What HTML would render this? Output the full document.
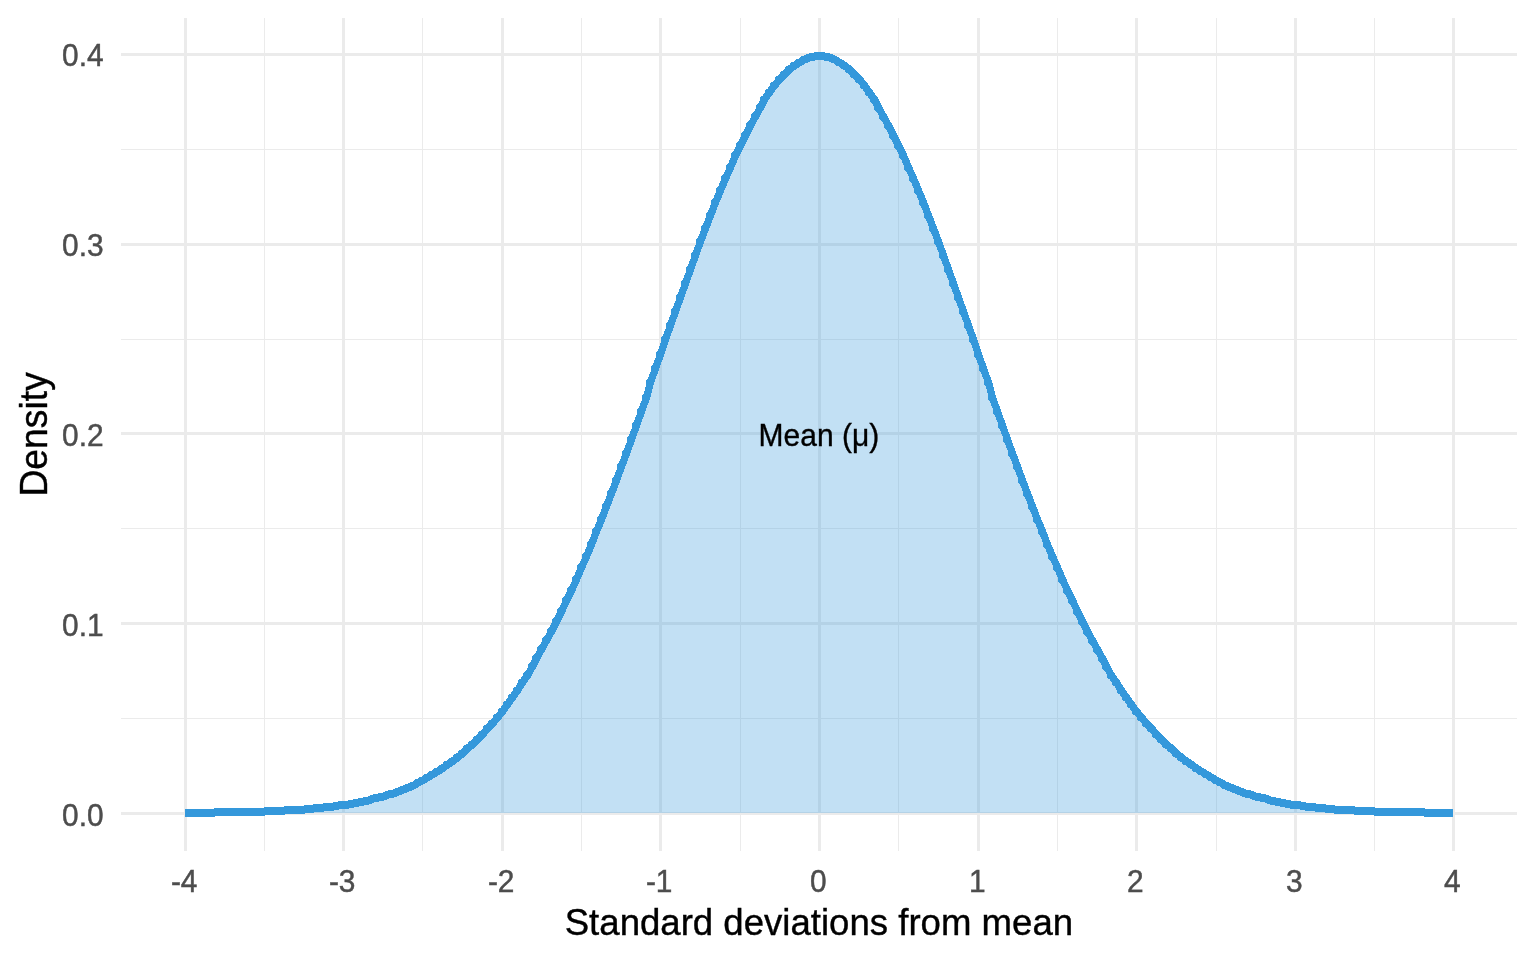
<!DOCTYPE html>
<html lang="en"><head><meta charset="utf-8"><title>Normal distribution</title>
<style>
html,body{margin:0;padding:0;background:#fff;overflow:hidden;}
svg{display:block;}
text{font-family:"Liberation Sans",Arial,Helvetica,sans-serif;}
.ax{font-size:29.9px;fill:#4d4d4d;stroke:#4d4d4d;stroke-width:0.45px;}
.ti{font-size:37.3px;fill:#000;stroke:#000;stroke-width:0.4px;}
.an{font-size:30.3px;fill:#000;stroke:#000;stroke-width:0.35px;}
</style></head><body>
<svg width="1536" height="960" viewBox="0 0 1536 960">
<rect width="1536" height="960" fill="#fff"/>
<g shape-rendering="crispEdges">
<g fill="#ebebeb">
<rect x="264" y="18" width="1" height="833"/>
<rect x="422" y="18" width="1" height="833"/>
<rect x="581" y="18" width="1" height="833"/>
<rect x="740" y="18" width="1" height="833"/>
<rect x="898" y="18" width="1" height="833"/>
<rect x="1057" y="18" width="1" height="833"/>
<rect x="1216" y="18" width="1" height="833"/>
<rect x="1374" y="18" width="1" height="833"/>
<rect x="121" y="718" width="1396" height="1"/>
<rect x="121" y="528" width="1396" height="1"/>
<rect x="121" y="339" width="1396" height="1"/>
<rect x="121" y="149" width="1396" height="1"/>
<rect x="184" y="18" width="3" height="833"/>
<rect x="342" y="18" width="3" height="833"/>
<rect x="501" y="18" width="3" height="833"/>
<rect x="659" y="18" width="3" height="833"/>
<rect x="818" y="18" width="3" height="833"/>
<rect x="977" y="18" width="3" height="833"/>
<rect x="1135" y="18" width="3" height="833"/>
<rect x="1294" y="18" width="3" height="833"/>
<rect x="1452" y="18" width="3" height="833"/>
<rect x="121" y="812" width="1396" height="3"/>
<rect x="121" y="622" width="1396" height="3"/>
<rect x="121" y="432" width="1396" height="3"/>
<rect x="121" y="243" width="1396" height="3"/>
<rect x="121" y="53" width="1396" height="3"/>
</g>
<path d="M185,813L185,813L190,813L194,813L199,813L204,813L209,813L214,812L219,812L224,812L229,812L234,812L239,812L244,812L249,812L254,812L259,812L264,811L269,811L274,811L279,811L284,810L289,810L294,810L299,810L304,809L308,809L313,808L318,808L323,807L328,807L333,806L338,805L343,805L348,804L353,803L358,802L363,801L368,800L373,798L378,797L383,796L388,794L393,793L398,791L403,789L408,787L413,785L418,782L422,780L427,777L432,774L437,771L442,768L447,764L452,761L457,757L462,753L467,748L472,744L477,739L482,734L487,728L492,723L497,717L502,711L507,704L512,697L517,690L522,682L527,675L532,666L536,658L541,649L546,640L551,631L556,621L561,611L566,600L571,590L576,579L581,567L586,556L591,544L596,531L601,519L606,506L611,493L616,480L621,466L626,453L631,439L636,425L641,411L646,397L650,382L655,368L660,354L665,339L670,325L675,311L680,297L685,283L690,269L695,255L700,241L705,228L710,215L715,202L720,190L725,178L730,167L735,155L740,145L745,135L750,125L755,116L760,107L764,99L769,92L774,85L779,79L784,74L789,69L794,65L799,62L804,59L809,57L814,56L819,56L824,56L829,57L834,59L839,62L844,65L849,69L854,74L859,79L864,85L869,92L874,99L878,107L883,116L888,125L893,135L898,145L903,155L908,167L913,178L918,190L923,202L928,215L933,228L938,241L943,255L948,269L953,283L958,297L963,311L968,325L973,339L978,354L983,368L988,382L992,397L997,411L1002,425L1007,439L1012,453L1017,466L1022,480L1027,493L1032,506L1037,519L1042,531L1047,544L1052,556L1057,567L1062,579L1067,590L1072,600L1077,611L1082,621L1087,631L1092,640L1097,649L1102,658L1106,666L1111,675L1116,682L1121,690L1126,697L1131,704L1136,711L1141,717L1146,723L1151,728L1156,734L1161,739L1166,744L1171,748L1176,753L1181,757L1186,761L1191,764L1196,768L1201,771L1206,774L1211,777L1216,780L1220,782L1225,785L1230,787L1235,789L1240,791L1245,793L1250,794L1255,796L1260,797L1265,798L1270,800L1275,801L1280,802L1285,803L1290,804L1295,805L1300,805L1305,806L1310,807L1315,807L1320,808L1325,808L1330,809L1334,809L1339,810L1344,810L1349,810L1354,810L1359,811L1364,811L1369,811L1374,811L1379,812L1384,812L1389,812L1394,812L1399,812L1404,812L1409,812L1414,812L1419,812L1424,812L1429,813L1434,813L1439,813L1444,813L1448,813L1453,813L1453,813Z" fill="#3498db" fill-opacity="0.3" stroke="none"/>
<path transform="scale(0.9,1)" d="M205.556,813.49L211.656,813.49L216.100,813.49L221.656,813.49L227.211,813.49L232.767,813.49L238.322,812.49L243.878,812.49L249.433,812.49L254.989,812.49L260.544,812.49L266.100,812.49L271.656,812.49L277.211,812.49L282.767,812.49L288.322,812.49L293.878,811.49L299.433,811.49L304.989,811.49L310.544,811.49L316.100,810.49L321.656,810.49L327.211,810.49L332.767,810.49L338.322,809.49L342.767,809.49L348.322,808.49L353.878,808.49L359.433,807.49L364.989,807.49L370.544,806.49L376.100,805.49L381.656,805.49L387.211,804.49L392.767,803.49L398.322,802.49L403.878,801.49L409.433,800.49L414.989,798.49L420.544,797.49L426.100,796.49L431.656,794.49L437.211,793.49L442.767,791.49L448.322,789.49L453.878,787.49L459.433,785.49L464.989,782.49L469.433,780.49L474.989,777.49L480.544,774.49L486.100,771.49L491.656,768.49L497.211,764.49L502.767,761.49L508.322,757.49L513.878,753.49L519.433,748.49L524.989,744.49L530.544,739.49L536.100,734.49L541.656,728.49L547.211,723.49L552.767,717.49L558.322,711.49L563.878,704.49L569.433,697.49L574.989,690.49L580.544,682.49L586.100,675.49L591.656,666.49L596.100,658.49L601.656,649.49L607.211,640.49L612.767,631.49L618.322,621.49L623.878,611.49L629.433,600.49L634.989,590.49L640.544,579.49L646.100,567.49L651.656,556.49L657.211,544.49L662.767,531.49L668.322,519.49L673.878,506.49L679.433,493.49L684.989,480.49L690.544,466.49L696.100,453.49L701.656,439.49L707.211,425.49L712.767,411.49L718.322,397.49L722.767,382.49L728.322,368.49L733.878,354.49L739.433,339.49L744.989,325.49L750.544,311.49L756.100,297.49L761.656,283.49L767.211,269.49L772.767,255.49L778.322,241.49L783.878,228.49L789.433,215.49L794.989,202.49L800.544,190.49L806.100,178.49L811.656,167.49L817.211,155.49L822.767,145.49L828.322,135.49L833.878,125.49L839.433,116.49L844.989,107.49L849.433,99.49L854.989,92.49L860.544,85.49L866.100,79.49L871.656,74.49L877.211,69.49L882.767,65.49L888.322,62.49L893.878,59.49L899.433,57.49L904.989,56.49L910.544,56.49L916.100,56.49L921.656,57.49L927.211,59.49L932.767,62.49L938.322,65.49L943.878,69.49L949.433,74.49L954.989,79.49L960.544,85.49L966.100,92.49L971.656,99.49L976.100,107.49L981.656,116.49L987.211,125.49L992.767,135.49L998.322,145.49L1003.878,155.49L1009.433,167.49L1014.989,178.49L1020.544,190.49L1026.100,202.49L1031.656,215.49L1037.211,228.49L1042.767,241.49L1048.322,255.49L1053.878,269.49L1059.433,283.49L1064.989,297.49L1070.544,311.49L1076.100,325.49L1081.656,339.49L1087.211,354.49L1092.767,368.49L1098.322,382.49L1102.767,397.49L1108.322,411.49L1113.878,425.49L1119.433,439.49L1124.989,453.49L1130.544,466.49L1136.100,480.49L1141.656,493.49L1147.211,506.49L1152.767,519.49L1158.322,531.49L1163.878,544.49L1169.433,556.49L1174.989,567.49L1180.544,579.49L1186.100,590.49L1191.656,600.49L1197.211,611.49L1202.767,621.49L1208.322,631.49L1213.878,640.49L1219.433,649.49L1224.989,658.49L1229.433,666.49L1234.989,675.49L1240.544,682.49L1246.100,690.49L1251.656,697.49L1257.211,704.49L1262.767,711.49L1268.322,717.49L1273.878,723.49L1279.433,728.49L1284.989,734.49L1290.544,739.49L1296.100,744.49L1301.656,748.49L1307.211,753.49L1312.767,757.49L1318.322,761.49L1323.878,764.49L1329.433,768.49L1334.989,771.49L1340.544,774.49L1346.100,777.49L1351.656,780.49L1356.100,782.49L1361.656,785.49L1367.211,787.49L1372.767,789.49L1378.322,791.49L1383.878,793.49L1389.433,794.49L1394.989,796.49L1400.544,797.49L1406.100,798.49L1411.656,800.49L1417.211,801.49L1422.767,802.49L1428.322,803.49L1433.878,804.49L1439.433,805.49L1444.989,805.49L1450.544,806.49L1456.100,807.49L1461.656,807.49L1467.211,808.49L1472.767,808.49L1478.322,809.49L1482.767,809.49L1488.322,810.49L1493.878,810.49L1499.433,810.49L1504.989,810.49L1510.544,811.49L1516.100,811.49L1521.656,811.49L1527.211,811.49L1532.767,812.49L1538.322,812.49L1543.878,812.49L1549.433,812.49L1554.989,812.49L1560.544,812.49L1566.100,812.49L1571.656,812.49L1577.211,812.49L1582.767,812.49L1588.322,813.49L1593.878,813.49L1599.433,813.49L1604.989,813.49L1609.433,813.49L1614.444,813.49" fill="none" stroke="#3498db" stroke-width="8" stroke-linejoin="round" stroke-linecap="butt"/>
<path d="M189.90,813.49h0M193.90,813.49h0M198.90,813.49h0M203.90,813.49h0M208.90,813.49h0M213.90,812.49h0M218.90,812.49h0M223.90,812.49h0M228.90,812.49h0M233.90,812.49h0M238.90,812.49h0M243.90,812.49h0M248.90,812.49h0M253.90,812.49h0M258.90,812.49h0M263.90,811.49h0M268.90,811.49h0M273.90,811.49h0M278.90,811.49h0M283.90,810.49h0M288.90,810.49h0M293.90,810.49h0M298.90,810.49h0M303.90,809.49h0M307.90,809.49h0M312.90,808.49h0M317.90,808.49h0M322.90,807.49h0M327.90,807.49h0M332.90,806.49h0M337.90,805.49h0M342.90,805.49h0M347.90,804.49h0M352.90,803.49h0M357.90,802.49h0M362.90,801.49h0M367.90,800.49h0M372.90,798.49h0M377.90,797.49h0M382.90,796.49h0M387.90,794.49h0M392.90,793.49h0M397.90,791.49h0M402.90,789.49h0M407.90,787.49h0M412.90,785.49h0M417.90,782.49h0M421.90,780.49h0M426.90,777.49h0M431.90,774.49h0M436.90,771.49h0M441.90,768.49h0M446.90,764.49h0M451.90,761.49h0M456.90,757.49h0M461.90,753.49h0M466.90,748.49h0M471.90,744.49h0M476.90,739.49h0M481.90,734.49h0M486.90,728.49h0M491.90,723.49h0M496.90,717.49h0M501.90,711.49h0M506.90,704.49h0M511.90,697.49h0M516.90,690.49h0M521.90,682.49h0M526.90,675.49h0M531.90,666.49h0M535.90,658.49h0M540.90,649.49h0M545.90,640.49h0M550.90,631.49h0M555.90,621.49h0M560.90,611.49h0M565.90,600.49h0M570.90,590.49h0M575.90,579.49h0M580.90,567.49h0M585.90,556.49h0M590.90,544.49h0M595.90,531.49h0M600.90,519.49h0M605.90,506.49h0M610.90,493.49h0M615.90,480.49h0M620.90,466.49h0M625.90,453.49h0M630.90,439.49h0M635.90,425.49h0M640.90,411.49h0M645.90,397.49h0M649.90,382.49h0M654.90,368.49h0M659.90,354.49h0M664.90,339.49h0M669.90,325.49h0M674.90,311.49h0M679.90,297.49h0M684.90,283.49h0M689.90,269.49h0M694.90,255.49h0M699.90,241.49h0M704.90,228.49h0M709.90,215.49h0M714.90,202.49h0M719.90,190.49h0M724.90,178.49h0M729.90,167.49h0M734.90,155.49h0M739.90,145.49h0M744.90,135.49h0M749.90,125.49h0M754.90,116.49h0M759.90,107.49h0M763.90,99.49h0M768.90,92.49h0M773.90,85.49h0M778.90,79.49h0M783.90,74.49h0M788.90,69.49h0M793.90,65.49h0M798.90,62.49h0M803.90,59.49h0M808.90,57.49h0M813.90,56.49h0M818.90,56.49h0M823.90,56.49h0M828.90,57.49h0M833.90,59.49h0M838.90,62.49h0M843.90,65.49h0M848.90,69.49h0M853.90,74.49h0M858.90,79.49h0M863.90,85.49h0M868.90,92.49h0M873.90,99.49h0M877.90,107.49h0M882.90,116.49h0M887.90,125.49h0M892.90,135.49h0M897.90,145.49h0M902.90,155.49h0M907.90,167.49h0M912.90,178.49h0M917.90,190.49h0M922.90,202.49h0M927.90,215.49h0M932.90,228.49h0M937.90,241.49h0M942.90,255.49h0M947.90,269.49h0M952.90,283.49h0M957.90,297.49h0M962.90,311.49h0M967.90,325.49h0M972.90,339.49h0M977.90,354.49h0M982.90,368.49h0M987.90,382.49h0M991.90,397.49h0M996.90,411.49h0M1001.90,425.49h0M1006.90,439.49h0M1011.90,453.49h0M1016.90,466.49h0M1021.90,480.49h0M1026.90,493.49h0M1031.90,506.49h0M1036.90,519.49h0M1041.90,531.49h0M1046.90,544.49h0M1051.90,556.49h0M1056.90,567.49h0M1061.90,579.49h0M1066.90,590.49h0M1071.90,600.49h0M1076.90,611.49h0M1081.90,621.49h0M1086.90,631.49h0M1091.90,640.49h0M1096.90,649.49h0M1101.90,658.49h0M1105.90,666.49h0M1110.90,675.49h0M1115.90,682.49h0M1120.90,690.49h0M1125.90,697.49h0M1130.90,704.49h0M1135.90,711.49h0M1140.90,717.49h0M1145.90,723.49h0M1150.90,728.49h0M1155.90,734.49h0M1160.90,739.49h0M1165.90,744.49h0M1170.90,748.49h0M1175.90,753.49h0M1180.90,757.49h0M1185.90,761.49h0M1190.90,764.49h0M1195.90,768.49h0M1200.90,771.49h0M1205.90,774.49h0M1210.90,777.49h0M1215.90,780.49h0M1219.90,782.49h0M1224.90,785.49h0M1229.90,787.49h0M1234.90,789.49h0M1239.90,791.49h0M1244.90,793.49h0M1249.90,794.49h0M1254.90,796.49h0M1259.90,797.49h0M1264.90,798.49h0M1269.90,800.49h0M1274.90,801.49h0M1279.90,802.49h0M1284.90,803.49h0M1289.90,804.49h0M1294.90,805.49h0M1299.90,805.49h0M1304.90,806.49h0M1309.90,807.49h0M1314.90,807.49h0M1319.90,808.49h0M1324.90,808.49h0M1329.90,809.49h0M1333.90,809.49h0M1338.90,810.49h0M1343.90,810.49h0M1348.90,810.49h0M1353.90,810.49h0M1358.90,811.49h0M1363.90,811.49h0M1368.90,811.49h0M1373.90,811.49h0M1378.90,812.49h0M1383.90,812.49h0M1388.90,812.49h0M1393.90,812.49h0M1398.90,812.49h0M1403.90,812.49h0M1408.90,812.49h0M1413.90,812.49h0M1418.90,812.49h0M1423.90,812.49h0M1428.90,813.49h0M1433.90,813.49h0M1438.90,813.49h0M1443.90,813.49h0M1447.90,813.49h0" fill="none" stroke="#3498db" stroke-width="8" stroke-linecap="round"/>
</g>
<text transform="translate(818.9,445.8) scale(0.99,1.06)" text-anchor="middle" class="an">Mean (μ)</text>
<text transform="translate(184.2,892.2) scale(1,1.035)" text-anchor="middle" class="ax">-4</text>
<text transform="translate(342.2,892.2) scale(1,1.035)" text-anchor="middle" class="ax">-3</text>
<text transform="translate(501.2,892.2) scale(1,1.035)" text-anchor="middle" class="ax">-2</text>
<text transform="translate(659.2,892.2) scale(1,1.035)" text-anchor="middle" class="ax">-1</text>
<text transform="translate(818.2,892.2) scale(1,1.035)" text-anchor="middle" class="ax">0</text>
<text transform="translate(977.2,892.2) scale(1,1.035)" text-anchor="middle" class="ax">1</text>
<text transform="translate(1135.2,892.2) scale(1,1.035)" text-anchor="middle" class="ax">2</text>
<text transform="translate(1294.2,892.2) scale(1,1.035)" text-anchor="middle" class="ax">3</text>
<text transform="translate(1452.2,892.2) scale(1,1.035)" text-anchor="middle" class="ax">4</text>
<text transform="translate(103.6,825.8) scale(1,1.035)" text-anchor="end" class="ax">0.0</text>
<text transform="translate(103.6,635.8) scale(1,1.035)" text-anchor="end" class="ax">0.1</text>
<text transform="translate(103.6,445.8) scale(1,1.035)" text-anchor="end" class="ax">0.2</text>
<text transform="translate(103.6,255.8) scale(1,1.035)" text-anchor="end" class="ax">0.3</text>
<text transform="translate(103.6,65.8) scale(1,1.035)" text-anchor="end" class="ax">0.4</text>
<text transform="translate(818.9,935) scale(0.981,1)" text-anchor="middle" class="ti">Standard deviations from mean</text>
<text transform="translate(47.4,434.4) rotate(-90) scale(1,1.03)" text-anchor="middle" class="ti">Density</text>
</svg>
</body></html>
